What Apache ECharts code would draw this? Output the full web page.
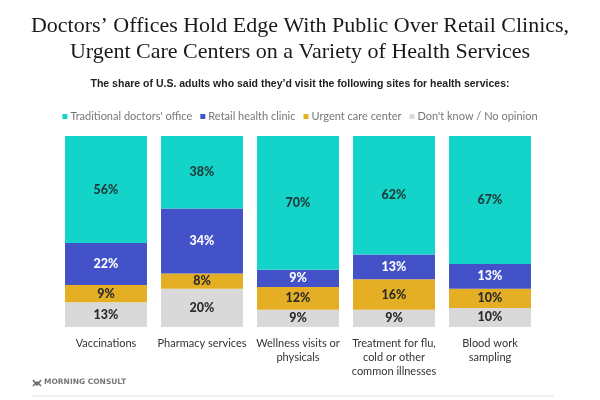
<!DOCTYPE html>
<html><head><meta charset="utf-8">
<script src="https://cdn.jsdelivr.net/npm/echarts@6/dist/echarts.min.js"></script>
<style>html,body{margin:0;padding:0;background:#fff}#c{width:600px;height:400px}</style>
</head><body><div id="c"></div>
<script>
const categories = ["Vaccinations", "Pharmacy services", "Wellness visits or\nphysicals", "Treatment for flu,\ncold or other\ncommon illnesses", "Blood work\nsampling"];
const doctors = [56, 38, 70, 62, 67];
const retail = [22, 34, 9, 13, 13];
const urgent = [9, 8, 12, 16, 10];
const dontKnow = [13, 20, 9, 9, 10];
const seriesNames = ["Traditional doctors' office", "Retail health clinic", "Urgent care center", "Don't know / No opinion"];

const colors = {teal: "#14d3c8", blue: "#4452c9", gold: "#e4af24", gray: "#d9d9d9"};
const sans = "Lato, 'Open Sans', sans-serif";
const chart = echarts.init(document.getElementById('c'), null, {renderer: 'canvas'});
function mk(name, data, color, labelColor) {
  return {
    name, type: 'bar', stack: 'total', data, barWidth: 82,
    itemStyle: {color},
    label: {show: true, position: 'inside', formatter: '{c}%', color: labelColor, fontFamily: sans, fontWeight: 900, fontSize: 12.5},
    emphasis: {disabled: true}
  };
}
chart.setOption({
  animation: false,
  title: [
    {text: "Doctors’ Offices Hold Edge With Public Over Retail Clinics,\nUrgent Care Centers on a Variety of Health Services", left: 'center', top: 8,
     textStyle: {fontFamily: "'Liberation Serif', serif", fontWeight: 'normal', fontSize: 22, color: '#1a1a1a', lineHeight: 26}},
    {text: "The share of U.S. adults who said they’d visit the following sites for health services:", left: 'center', top: 74,
     textStyle: {fontFamily: "'Liberation Sans', Arial, sans-serif", fontWeight: 'bold', fontSize: 10.5, color: '#222'}}
  ],
  legend: {
    data: seriesNames, top: 106, left: 'center', itemWidth: 5, itemHeight: 5, itemGap: 8, icon: 'rect',
    textStyle: {fontFamily: sans, fontSize: 11, color: '#777', padding: [0, 0, 0, -2]}
  },
  grid: {left: 58, right: 62, top: 136, bottom: 73},
  xAxis: {type: 'category', data: categories, axisLine: {show: false}, axisTick: {show: false},
    axisLabel: {interval: 0, margin: 9, color: '#333', fontFamily: sans, fontSize: 11, lineHeight: 14}},
  yAxis: {type: 'value', min: 0, max: 100, show: false},
  series: [
    mk(seriesNames[3], dontKnow, colors.gray, '#2b2b2b'),
    mk(seriesNames[2], urgent, colors.gold, '#2b2b2b'),
    mk(seriesNames[1], retail, colors.blue, '#ffffff'),
    mk(seriesNames[0], doctors, colors.teal, '#1e3a3a')
  ],
  graphic: [
    {type: 'text', x: 44, y: 378, style: {text: "MORNING CONSULT", fontFamily: "'DejaVu Sans', sans-serif", fontWeight: 'bold', fontSize: 7.5, fill: '#777'}},
    {type: 'polyline', shape: {points: [[33,380],[37,385],[41,380]]}, style: {stroke: '#666', lineWidth: 1.5, fill: null}},
    {type: 'polyline', shape: {points: [[33,386],[37,382],[41,386]]}, style: {stroke: '#666', lineWidth: 1.5, fill: null}},
    {type: 'rect', shape: {x: 32, y: 395, width: 522, height: 2}, style: {fill: '#efefef'}}
  ]
});
</script></body></html>
